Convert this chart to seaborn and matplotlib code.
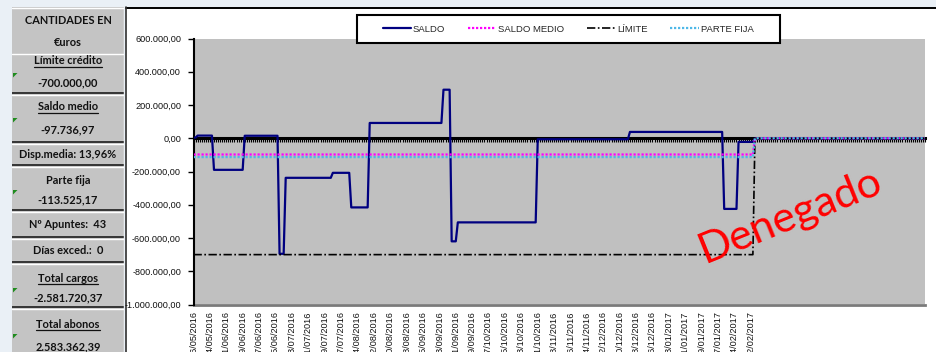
import numpy as np
import pandas as pd
import matplotlib
matplotlib.use("Agg")
import matplotlib.pyplot as plt
import seaborn as sns
from matplotlib.patches import Rectangle, Polygon
from matplotlib.lines import Line2D

sns.set_theme(style="white")
plt.rcParams['font.family'] = ['Liberation Sans', 'DejaVu Sans']

# ---- datos ---------------------------------------------------------------
# fecha de cada movimiento y saldo resultante tras el movimiento
fechas_mov = ["16/05/2016", "18/05/2016", "26/05/2016", "10/06/2016", "27/06/2016",
              "30/06/2016", "23/07/2016", "01/08/2016", "10/08/2016", "15/09/2016",
              "19/09/2016", "22/09/2016", "31/10/2016", "15/12/2016", "30/01/2017",
              "06/02/2017"]
saldos_mov = [4000, 16000, -190000, 15000, -695000,
              -238000, -208000, -416000, 92000, 292000,
              -620000, -506000, -6000, 38000, -425000,
              -22000]
ultimo_dia = "13/02/2017"     # último día con datos
fin_eje = "08/05/2017"        # último día del eje de categorías
saldo_medio = -97736.97
limite = -700000.00
parte_fija = -113525.17
paso_etiquetas = 8

series_nombres = ["SALDO", "SALDO MEDIO", "LÍMITE", "PARTE FIJA"]

resumen = [
    ("CANTIDADES EN", False), ("€uros", False),
    ("Límite crédito", True), ("-700.000,00", False),
    ("Saldo medio", True), ("-97.736,97", False),
    ("Disp.media: 13,96%", False),
    ("Parte fija", False), ("-113.525,17", False),
    ("Nº Apuntes:  43", False),
    ("Días exced.:  0", False),
    ("Total cargos", True), ("-2.581.720,37", False),
    ("Total abonos", True), ("2.583.362,39", False),
]

# ---- tabla diaria --------------------------------------------------------
inicio = pd.to_datetime(fechas_mov[0], dayfirst=True)
dias = pd.date_range(inicio, pd.to_datetime(fin_eje, dayfirst=True), freq="D")
fin_datos = pd.to_datetime(ultimo_dia, dayfirst=True)
activo = dias <= fin_datos

saldo = (pd.Series(saldos_mov, index=pd.to_datetime(fechas_mov, dayfirst=True))
         .reindex(dias).ffill().where(activo, 0.0))
pos = np.arange(len(dias))
df = pd.DataFrame({
    "pos": pos,
    "SALDO": saldo.values,
    "SALDO MEDIO": np.where(activo, saldo_medio, 0.0),
    "LÍMITE": np.where(activo, limite, 0.0),
    "PARTE FIJA": np.where(activo, parte_fija, 0.0),
})
largo = df.melt(id_vars="pos", var_name="serie", value_name="valor")

estilos = {
    "SALDO": dict(color="#000080", lw=1.6, ls="-"),
    "SALDO MEDIO": dict(color="#FF00FF", lw=1.6, ls=(0, (1, 0.8))),
    "LÍMITE": dict(color="#000000", lw=1.2, ls=(0, (5, 1.5, 1, 1.5))),
    "PARTE FIJA": dict(color="#4FB8E8", lw=1.6, ls=(0, (1, 0.8))),
}

# ---- figura --------------------------------------------------------------
W, H = 936, 352
fig = plt.figure(figsize=(W / 100, H / 100), dpi=100)
fig.patch.set_facecolor("#EAF0F6")


def fx(x):
    return x / W


def fy(y):
    return 1 - y / H


# fondo blanco del gráfico y su marco
fig.add_artist(Rectangle((fx(126), 0), fx(W - 126), fy(7), transform=fig.transFigure,
                         facecolor="white", edgecolor="none", zorder=-5))
fig.add_artist(Line2D([fx(126), 1], [fy(7.5), fy(7.5)], transform=fig.transFigure,
                      color="black", lw=1.4, zorder=-4))
fig.add_artist(Line2D([fx(125.5), fx(125.5)], [fy(7), 0], transform=fig.transFigure,
                      color="#303030", lw=1.2, zorder=-4))

ax_l, ax_r, ax_t, ax_b = 193.5, 925, 38.5, 304.5
ax = fig.add_axes([fx(ax_l), fy(ax_b), fx(ax_r - ax_l), (ax_b - ax_t) / H])
ax.set_facecolor("#C0C0C0")

for i, nombre in enumerate(series_nombres):
    st = estilos[nombre]
    sns.lineplot(data=largo[largo["serie"] == nombre], x="pos", y="valor", ax=ax,
                 color=st["color"], linewidth=st["lw"], linestyle=st["ls"],
                 zorder=3 + i, legend=False)

ax.set_xlim(0, len(dias) - 1)
ax.set_ylim(-1_000_000, 600_000)
ax.set_xlabel("")
ax.set_ylabel("")


def miles(v):
    s = f"{v:,.2f}"
    return s.replace(",", "X").replace(".", ",").replace("X", ".")


yt = np.arange(-1_000_000, 600_001, 200_000)
ax.set_yticks(yt)
ax.set_yticklabels([miles(v) for v in yt], fontsize=6.6, color="#111111")
ax.tick_params(axis="y", direction="out", length=4, width=1, color="black", pad=5, left=True)

# eje de categorías cruzando en 0, con marca diaria
for s in ["top", "right"]:
    ax.spines[s].set_visible(False)
ax.spines["left"].set_color("black")
ax.spines["left"].set_linewidth(1.5)
ax.spines["bottom"].set_position(("data", 0))
ax.spines["bottom"].set_color("black")
ax.spines["bottom"].set_linewidth(2.2)
ax.spines["bottom"].set_zorder(2)
ax.set_xticks(pos)
ax.tick_params(axis="x", direction="out", length=3.2, width=0.8, color="black",
               labelbottom=False, bottom=True)

# etiquetas de fecha en la parte baja
sec = ax.secondary_xaxis(0)
idx_et = np.arange(0, int(activo.sum()), paso_etiquetas)
sec.set_xticks(idx_et)
sec.set_xticklabels([dias[i].strftime("%d/%m/%Y") for i in idx_et], rotation=90,
                    fontsize=6.6, color="#111111")
sec.tick_params(length=0, pad=5)
sec.spines["bottom"].set_color("#7A7A7A")
sec.spines["bottom"].set_linewidth(2)

# leyenda
fig.add_artist(Rectangle((fx(357), fy(43)), fx(780 - 357), (43 - 15) / H,
                         transform=fig.transFigure, facecolor="white",
                         edgecolor="black", lw=1.5, zorder=6))
handles = [Line2D([], [], color=estilos[n]["color"], lw=estilos[n]["lw"], ls=estilos[n]["ls"])
           for n in series_nombres]
leg = fig.legend(handles, series_nombres, loc="center", ncol=4, frameon=False,
                 bbox_to_anchor=(fx(568), fy(29)), fontsize=6.8, handlelength=3.0,
                 handletextpad=0.2, columnspacing=2.4)
leg.set_zorder(7)

fig.text(fx(790), fy(216), "Denegado", rotation=22, color="#FF0000", fontsize=31,
         family="Lato", ha="center", va="center", rotation_mode="anchor", zorder=8)

# ---- panel de resumen ------------------------------------------------------
pax = fig.add_axes([fx(12), 0, fx(124 - 12), fy(7)])
pax.set_xlim(12, 124)
pax.set_ylim(352, 7)
pax.axis("off")
pax.add_patch(Rectangle((12, 7), 112, 345, facecolor="#C4C4C4", edgecolor="none"))
for y in [8, 54]:
    pax.plot([12, 124], [y, y], color="white", lw=1)
for y in [93, 142, 165, 210, 237, 262, 307]:
    pax.plot([12, 124], [y, y], color="#2A2A2A", lw=1.3)
    pax.plot([12, 124], [y + 2.2, y + 2.2], color="white", lw=1)
pax.plot([123.5, 123.5], [7, 352], color="white", lw=1)

yt_panel = [20, 43, 61, 83, 107, 130, 155, 181, 200, 225, 251, 278, 298, 324, 347]
textos = []
for (txt, sub), y in zip(resumen, yt_panel):
    t = pax.text(68, y, txt, ha="center", va="center", fontsize=7.9, family="Lato",
                 fontweight="bold", color="#111111")
    textos.append((t, sub))

for y in [73, 118, 190, 288, 334]:
    pax.add_patch(Polygon([(13, y), (17.5, y), (13, y + 4.5)], closed=True,
                          facecolor="#1E8C1E", edgecolor="none"))

fig.canvas.draw()
rend = fig.canvas.get_renderer()
inv = pax.transData.inverted()
for t, sub in textos:
    if sub:
        bb = t.get_window_extent(rend)
        (x0, y0), (x1, y1) = inv.transform([(bb.x0, bb.y0), (bb.x1, bb.y1)])
        pax.plot([x0, x1], [y0 + 0.5, y0 + 0.5], color="#111111", lw=0.9)

fig.savefig("out.png", dpi=100, facecolor=fig.get_facecolor())
